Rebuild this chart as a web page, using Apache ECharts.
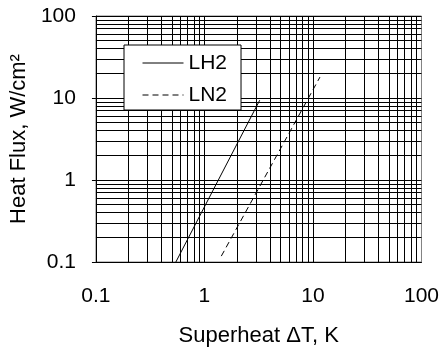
<!DOCTYPE html>
<html>
<head>
<meta charset="utf-8">
<script src="https://cdn.jsdelivr.net/npm/echarts@6/dist/echarts.min.js"></script>
<style>
  html, body { margin: 0; padding: 0; background: #fff; }
  #main { width: 442px; height: 352px; }
</style>
</head>
<body>
<div id="main"></div>
<script>
// (log-log)
const lh2Data = [[0.545, 0.1], [3.23, 9.4]];
const ln2Data = [[1.43, 0.118], [11.6, 18]];
const decades = [0.1, 1, 10];
const steps = [1, 2, 3, 4, 5, 6, 7, 8, 9];

// grid line values: 1..9 in each decade
const gridValues = [];
decades.forEach(function (d) {
  steps.forEach(function (s) {
    gridValues.push(+(d * s).toPrecision(3));
  });
});
gridValues.push(100);

const font = 'Liberation Sans, Arial, sans-serif';
const chart = echarts.init(document.getElementById('main'));

const markLines = [];
gridValues.forEach(function (v) {
  if (v > 0.1 && v < 100) markLines.push({ xAxis: v });
  if (v > 0.1) markLines.push({ yAxis: v });
});

chart.setOption({
  animation: false,
  backgroundColor: '#fff',
  grid: {
    left: 92, right: 20, top: 16, bottom: 90,
    show: true, borderColor: '#808080', borderWidth: 1
  },
  legend: {
    data: ['LH2', 'LN2'],
    orient: 'vertical',
    left: 124, top: 45,
    z: 50,
    padding: [7, 14, 4, 18],
    itemWidth: 41, itemHeight: 13, itemGap: 10,
    backgroundColor: '#fff',
    borderColor: '#000', borderWidth: 1,
    borderRadius: 0,
    itemStyle: { opacity: 0 },
    lineStyle: { width: 1 },
    textStyle: { fontFamily: font, fontSize: 21, color: '#000', lineHeight: 22 }
  },
  xAxis: {
    type: 'log', logBase: 10, min: 0.1, max: 100,
    name: 'Superheat ΔT, K',
    nameLocation: 'middle', nameGap: 63,
    nameTextStyle: { fontFamily: font, fontSize: 22, color: '#000' },
    axisLine: { show: true, lineStyle: { color: '#000', width: 1 } },
    axisTick: { show: false },
    splitLine: { show: false },
    axisLabel: { fontFamily: font, fontSize: 21, color: '#000', margin: 24 }
  },
  yAxis: {
    type: 'log', logBase: 10, min: 0.1, max: 100,
    name: 'Heat Flux, W/cm²',
    nameLocation: 'middle', nameGap: 56,
    nameTextStyle: { fontFamily: font, fontSize: 22, color: '#000' },
    axisLine: { show: true, lineStyle: { color: '#000', width: 1 } },
    axisTick: { show: true, length: 4, lineStyle: { color: '#000' } },
    splitLine: { show: false },
    axisLabel: { fontFamily: font, fontSize: 21, color: '#000', margin: 20 }
  },
  series: [
    {
      name: 'gridlines',
      type: 'line',
      data: [],
      silent: true,
      z: 1,
      markLine: {
        silent: true,
        z: 1,
        symbol: ['none', 'none'],
        label: { show: false },
        lineStyle: { color: '#000', width: 1, type: 'solid' },
        emphasis: { disabled: true },
        data: markLines
      }
    },
    {
      name: 'LH2',
      type: 'line',
      data: lh2Data,
      showSymbol: false,
      symbol: 'none',
      z: 5,
      lineStyle: { color: '#000', width: 1, type: 'solid' },
      itemStyle: { color: '#000' }
    },
    {
      name: 'LN2',
      type: 'line',
      data: ln2Data,
      showSymbol: false,
      symbol: 'none',
      z: 5,
      lineStyle: { color: '#000', width: 1, type: [6, 4] },
      itemStyle: { color: '#000' }
    }
  ]
});
</script>
</body>
</html>
